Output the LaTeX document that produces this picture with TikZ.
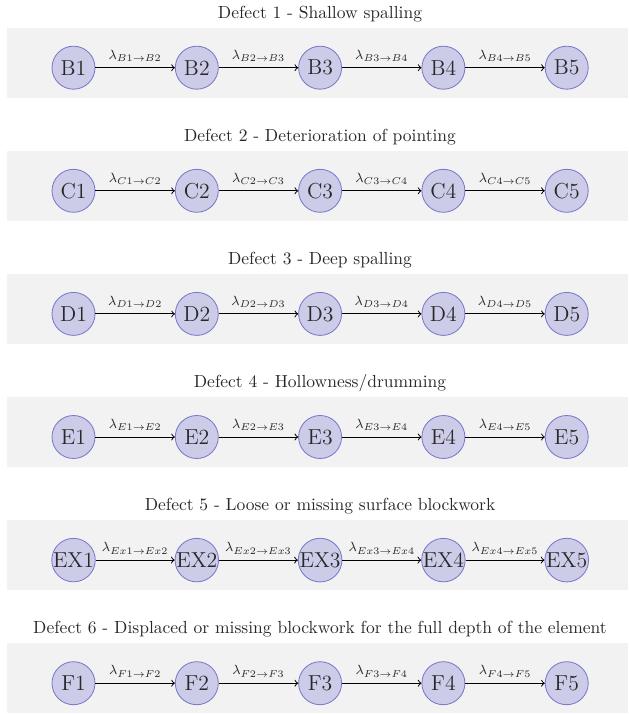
\documentclass[tikz,border=0pt]{standalone}
\usetikzlibrary{positioning}
\definecolor{statefill}{RGB}{204,204,232}
\definecolor{statedraw}{RGB}{120,120,204}
\definecolor{txt}{RGB}{40,40,40}
\begin{document}
\begin{tikzpicture}[x=0.6pt, y=-0.6pt,
  state/.style={circle, draw=statedraw, line width=0.5pt, fill=statefill, minimum size=25.8pt, inner sep=0pt, text=txt, font=\fontsize{13}{15}\selectfont},
  band/.style={fill=black!5},
  trans/.style={->, line width=0.6pt},
  rate/.style={above, text=txt, font=\fontsize{8.2}{10}\selectfont},
  heading/.style={text=txt, font=\fontsize{10.5}{12}\selectfont}]
  \useasboundingbox (0,0) rectangle (628,714);
  \foreach \nm/\sb/\ttl [count=\r from 0] in {
      B/B/{Defect 1 - Shallow spalling},
      C/C/{Defect 2 - Deterioration of pointing},
      D/D/{Defect 3 - Deep spalling},
      E/E/{Defect 4 - Hollowness/drumming},
      EX/Ex/{Defect 5 - Loose or missing surface blockwork},
      F/F/{Defect 6 - Displaced or missing blockwork for the full depth of the element}} {
    \pgfmathsetmacro{\yc}{67.7+123.1*\r}
    \fill[band] (7,\yc-40) rectangle (628,\yc+30);
    \node[heading] (title\nm) at (320,\yc-54) {\ttl};
    % states of the row
    \foreach \i in {1,...,5}
      \node[state] (\nm\i) at (73.5+123.3*\i-123.3,\yc) {\nm\i};
    % transitions
    \foreach \i [evaluate=\i as \j using int(\i+1)] in {1,...,4}
      \draw[trans] (\nm\i) -- node[rate] {$\lambda_{\sb\i\to\sb\j}$} (\nm\j);
  }
\end{tikzpicture}
\end{document}
